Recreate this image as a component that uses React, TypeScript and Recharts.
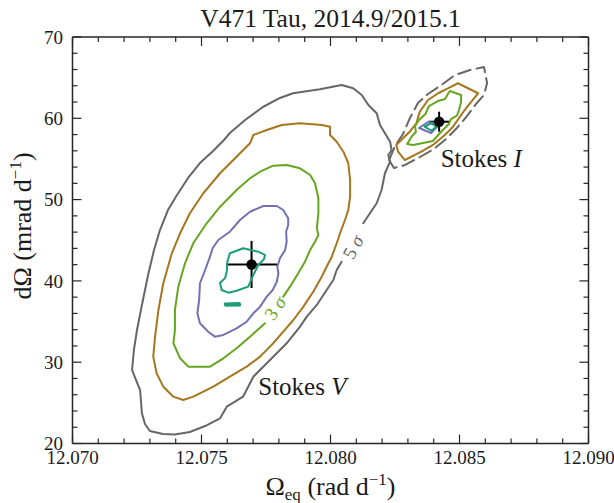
import React from "react";
import { ComposedChart, XAxis, YAxis, Scatter, ErrorBar, ReferenceDot } from "recharts";

const FONT = "'Liberation Serif', 'Times New Roman', serif";
const AX = "#262626";
const TXT = "#1a1a1a";

const TEAL = "#1b9e77";
const PURPLE = "#7570b3";
const GREEN = "#66a61e";
const BROWN = "#a6761d";
const GRAY = "#666666";

const xTicks = [12.07, 12.071, 12.072, 12.073, 12.074, 12.075, 12.076, 12.077, 12.078, 12.079, 12.08, 12.081, 12.082, 12.083, 12.084, 12.085, 12.086, 12.087, 12.088, 12.089, 12.09];
const xMajor = [12.07, 12.075, 12.08, 12.085, 12.09];
const xMajorLabels = ["12.070", "12.075", "12.080", "12.085", "12.090"];
const yTicks = [20, 22, 24, 26, 28, 30, 32, 34, 36, 38, 40, 42, 44, 46, 48, 50, 52, 54, 56, 58, 60, 62, 64, 66, 68, 70];
const yMajor = [20, 30, 40, 50, 60, 70];
const yMajorLabels = ["20", "30", "40", "50", "60", "70"];

type P = [number, number];

// Stokes V contours
const vTeal: P[] = [
  [12.0761, 43.4], [12.07662, 44.01], [12.0772, 43.59], [12.07746, 43.19], [12.07742, 42.66], [12.0772, 41.96],
  [12.07701, 40.73], [12.07681, 39.29], [12.07636, 38.79], [12.07604, 38.55], [12.07578, 38.88], [12.07572, 39.78],
  [12.07591, 40.32], [12.07598, 41.13], [12.076, 42.36],
];
const vTealSmall: P[] = [[12.07591, 37.2], [12.07647, 37.24], [12.07649, 37.02], [12.07593, 36.98]];
const vPurple: P[] = [
  [12.0774, 49.21], [12.07792, 49.21], [12.07817, 48.72], [12.07836, 47.7], [12.07836, 46.88], [12.07828, 46.05],
  [12.0783, 44.82], [12.07824, 43.8], [12.07804, 42.78], [12.07794, 41.75], [12.07798, 40.94], [12.07792, 39.9],
  [12.07776, 38.88], [12.07753, 38.06], [12.07727, 36.83], [12.07701, 36.02], [12.07675, 34.98], [12.07636, 34.17],
  [12.07585, 33.35], [12.07552, 33.14], [12.07526, 33.75], [12.07494, 34.79], [12.07484, 36.02], [12.07491, 37.65],
  [12.07494, 39.71], [12.07514, 41.34], [12.07533, 42.98], [12.07543, 44.01], [12.07565, 45.03], [12.0761, 46.05],
  [12.07649, 47.49], [12.07688, 48.51],
];
const vGreen: P[] = [
  [12.07746, 34.79], [12.07688, 33.14], [12.07636, 31.71], [12.07585, 30.48], [12.07533, 29.45], [12.07449, 29.45],
  [12.07417, 30.48], [12.07391, 32.33], [12.07397, 33.96], [12.07397, 36.42], [12.0741, 39.29], [12.07436, 42.17],
  [12.07468, 44.63], [12.0752, 47.09], [12.07572, 49.13], [12.07636, 51.18], [12.07688, 52.62], [12.07727, 53.43],
  [12.07778, 54.17], [12.0783, 54.26], [12.07882, 53.85], [12.07921, 53.03], [12.0794, 52.01], [12.07953, 50.16],
  [12.07953, 48.32], [12.07947, 46.47], [12.07953, 45.65], [12.0794, 44.82], [12.07921, 43.8], [12.07901, 42.36],
  [12.07875, 40.94], [12.07843, 39.29], [12.07817, 38.06],
];
const vBrown: P[] = [
  [12.07811, 59.18], [12.07882, 59.39], [12.07966, 59.18], [12.07998, 58.97], [12.07998, 57.95], [12.08024, 57.12],
  [12.0805, 55.89], [12.08069, 54.47], [12.08076, 52.41], [12.08076, 50.36], [12.08069, 48.72], [12.08056, 47.49],
  [12.08037, 45.86], [12.08024, 44.63], [12.08005, 42.98], [12.07985, 41.75], [12.07966, 40.52], [12.07933, 38.67],
  [12.07895, 36.83], [12.07856, 35.19], [12.07817, 33.75], [12.07778, 32.33], [12.07727, 30.68], [12.07675, 29.45],
  [12.0761, 28.22], [12.07546, 26.99], [12.07468, 25.76], [12.07429, 25.35], [12.07391, 25.76], [12.07352, 26.99],
  [12.07326, 28.64], [12.07313, 30.68], [12.0732, 33.14], [12.07333, 36.42], [12.07352, 39.71], [12.07385, 43.4],
  [12.07417, 45.86], [12.07455, 48.32], [12.07507, 50.78], [12.07572, 53.24], [12.07636, 55.28], [12.07688, 56.93],
  [12.07701, 57.95], [12.07753, 58.56],
];
const vGray: P[] = [
  [12.08043, 42.36], [12.08024, 41.34], [12.08011, 40.11], [12.07985, 38.88], [12.07947, 37.04], [12.07908, 35.6],
  [12.07882, 34.37], [12.0783, 32.33], [12.07778, 30.68], [12.07701, 28.22], [12.07661, 25.76], [12.07598, 24.53],
  [12.07572, 23.1], [12.07514, 22.15], [12.07455, 21.41], [12.07397, 21.11], [12.07351, 21.17], [12.073, 21.54],
  [12.07281, 22.4], [12.07269, 23.72], [12.07262, 26.58], [12.07231, 29.04], [12.07238, 31.5], [12.0725, 33.96],
  [12.07273, 37.65], [12.07293, 40.73], [12.07316, 43.8], [12.07339, 46.26], [12.0737, 48.72], [12.07405, 50.57],
  [12.07448, 52.66], [12.07494, 54.5], [12.07545, 55.98], [12.07587, 57.33], [12.0761, 58.19], [12.07669, 59.79],
  [12.07738, 61.39], [12.07804, 62.5], [12.07855, 63.08], [12.07959, 63.57], [12.08043, 64.1], [12.08088, 63.69],
  [12.08121, 62.87], [12.08147, 61.64], [12.08179, 60.62], [12.08192, 59.18], [12.08211, 58.16], [12.08231, 57.12],
  [12.08237, 56.1], [12.08224, 55.49], [12.08231, 54.66], [12.08211, 53.24], [12.08198, 51.18], [12.08179, 49.55],
  [12.08153, 48.32], [12.08127, 47.09],
];

// Stokes I contours
const iTeal: P[] = [[12.08365, 58.97], [12.08391, 59.39], [12.0841, 58.97], [12.08391, 58.47]];
const iPurple: P[] = [[12.08343, 58.81], [12.08378, 59.54], [12.08424, 59.3], [12.0839, 58.19]];
const iGreen: P[] = [
  [12.08463, 63.36], [12.08506, 62.87], [12.08506, 62.0], [12.08498, 61.02], [12.0849, 60.34], [12.08467, 59.91],
  [12.08459, 59.3], [12.08428, 58.31], [12.08397, 57.21], [12.08359, 56.96], [12.0832, 56.72], [12.08297, 56.84],
  [12.08316, 57.82], [12.08331, 58.31], [12.08328, 59.05], [12.08343, 59.79], [12.08368, 60.53], [12.08382, 61.51],
  [12.08417, 62.13], [12.08444, 62.37], [12.08455, 62.99],
];
const iBrown: P[] = [
  [12.08494, 64.31], [12.08572, 63.08], [12.08546, 62.04], [12.0852, 61.02], [12.08475, 58.97], [12.08443, 57.95],
  [12.08397, 56.72], [12.08352, 55.89], [12.08288, 54.87], [12.08262, 55.89], [12.08255, 56.72], [12.08281, 57.54],
  [12.08307, 58.35], [12.08333, 59.39], [12.08346, 60.81], [12.08378, 62.25], [12.08417, 63.08], [12.08455, 63.69],
];
const iGray: P[] = [
  [12.08227, 54.87], [12.0825, 56.59], [12.08281, 58.07], [12.08308, 60.04], [12.08339, 61.88], [12.08378, 62.99],
  [12.08424, 63.97], [12.08483, 65.33], [12.08541, 65.94], [12.08595, 66.31], [12.08607, 64.34], [12.08595, 62.87],
  [12.08564, 61.76], [12.08529, 60.28], [12.0849, 58.81], [12.08448, 57.45], [12.08401, 56.22], [12.08347, 55.24],
  [12.08289, 54.26], [12.08246, 53.89],
];

// best-fit points with error bars
const bestV = [{ x: 12.07694, y: 42.02, ex: 0.00099, ey: 2.9 }];
const bestI = [{ x: 12.08421, y: 59.58, ex: 0.00042, ey: 1.23 }];

// annotations (data coordinates)
const stokesVPos = { x: 12.0772, y: 25.97 };
const stokesIPos = { x: 12.08427, y: 53.97 };
const sigma3Pos = { x: 12.07785, y: 36.67 };
const sigma5Pos = { x: 12.08087, y: 44.17 };

const toPts = (a: P[], close: boolean) => {
  const r = a.map(([x, y]) => ({ x, y }));
  if (close) r.push({ ...r[0] });
  return r;
};

const near = (v: number, list: number[]) => list.findIndex((m) => Math.abs(m - v) < 1e-7);

const BottomTick = (p: any) => {
  const { x, y, payload } = p;
  const i = near(payload.value, xMajor);
  const maj = i >= 0;
  return (
    <g>
      <line x1={x} x2={x} y1={y} y2={y - (maj ? 9 : 5)} stroke={AX} strokeWidth={1.2} />
      {maj && (
        <text x={x} y={y + 20.5} textAnchor="middle" fontFamily={FONT} fontSize={19} fill={TXT}>
          {xMajorLabels[i]}
        </text>
      )}
    </g>
  );
};
const TopTick = (p: any) => {
  const { x, y, payload } = p;
  const maj = near(payload.value, xMajor) >= 0;
  return <line x1={x} x2={x} y1={y} y2={y + (maj ? 9 : 5)} stroke={AX} strokeWidth={1.2} />;
};
const LeftTick = (p: any) => {
  const { x, y, payload } = p;
  const i = near(payload.value, yMajor);
  const maj = i >= 0;
  return (
    <g>
      <line x1={x} x2={x + (maj ? 9 : 5)} y1={y} y2={y} stroke={AX} strokeWidth={1.2} />
      {maj && (
        <text x={x - 9.5} y={y} dy="0.35em" textAnchor="end" fontFamily={FONT} fontSize={19} fill={TXT}>
          {yMajorLabels[i]}
        </text>
      )}
    </g>
  );
};
const RightTick = (p: any) => {
  const { x, y, payload } = p;
  const maj = near(payload.value, yMajor) >= 0;
  return <line x1={x} x2={x - (maj ? 9 : 5)} y1={y} y2={y} stroke={AX} strokeWidth={1.2} />;
};

const Empty = () => <g />;
const Dot = (p: any) => <circle cx={p.cx} cy={p.cy} r={5.2} fill="#000" />;

const contour = (key: string, pts: P[], color: string, close = true, width = 2, dash?: string) => (
  <Scatter
    key={key}
    xAxisId="b"
    yAxisId="l"
    data={toPts(pts, close)}
    line={{ stroke: color, strokeWidth: width, strokeLinejoin: "round", strokeLinecap: "round", strokeDasharray: dash, fill: "none" }}
    lineType="joint"
    shape={Empty}
    isAnimationActive={false}
    legendType="none"
  />
);

export default function App() {
  return (
    <div style={{ position: "relative", width: 614, height: 503 }}>
      <style>{`body{margin:0;overflow:hidden}`}</style>
      <ComposedChart width={614} height={503} margin={{ top: 36, right: 24.5, bottom: 29.5, left: 71.5 }}>
        <XAxis xAxisId="b" type="number" dataKey="x" domain={[12.07, 12.09]} allowDataOverflow ticks={xTicks} interval={0}
          height={30} tickSize={0} tickMargin={0} tickLine={false} axisLine={{ stroke: AX, strokeWidth: 1.5 }} tick={BottomTick} />
        <XAxis xAxisId="t" orientation="top" type="number" dataKey="x" domain={[12.07, 12.09]} allowDataOverflow ticks={xTicks} interval={0}
          height={1} tickSize={0} tickMargin={0} tickLine={false} axisLine={{ stroke: AX, strokeWidth: 1.5 }} tick={TopTick} />
        <YAxis yAxisId="l" type="number" dataKey="y" domain={[20, 70]} allowDataOverflow ticks={yTicks} interval={0}
          width={1} tickSize={0} tickMargin={0} tickLine={false} axisLine={{ stroke: AX, strokeWidth: 1.5 }} tick={LeftTick} />
        <YAxis yAxisId="r" orientation="right" type="number" dataKey="y" domain={[20, 70]} allowDataOverflow ticks={yTicks} interval={0}
          width={1} tickSize={0} tickMargin={0} tickLine={false} axisLine={{ stroke: AX, strokeWidth: 1.5 }} tick={RightTick} />

        <Scatter xAxisId="t" yAxisId="r" data={bestV} shape={Empty} isAnimationActive={false} legendType="none" />

        {contour("vGray", vGray, GRAY, false)}
        {contour("vBrown", vBrown, BROWN)}
        {contour("vGreen", vGreen, GREEN, false)}
        {contour("vPurple", vPurple, PURPLE)}
        {contour("vTeal", vTeal, TEAL)}
        {contour("vTealSmall", vTealSmall, TEAL, true, 2.5)}
        {contour("iGray", iGray, GRAY, true, 2, "13 6")}
        {contour("iBrown", iBrown, BROWN)}
        {contour("iGreen", iGreen, GREEN)}
        {contour("iPurple", iPurple, PURPLE)}
        {contour("iTeal", iTeal, TEAL)}

        <Scatter xAxisId="b" yAxisId="l" data={bestV} shape={Dot} isAnimationActive={false} legendType="none">
          <ErrorBar dataKey="ex" direction="x" width={0} stroke="#000" strokeWidth={2} isAnimationActive={false} />
          <ErrorBar dataKey="ey" direction="y" width={0} stroke="#000" strokeWidth={2} isAnimationActive={false} />
        </Scatter>
        <Scatter xAxisId="b" yAxisId="l" data={bestI} shape={Dot} isAnimationActive={false} legendType="none">
          <ErrorBar dataKey="ex" direction="x" width={0} stroke="#000" strokeWidth={2} isAnimationActive={false} />
          <ErrorBar dataKey="ey" direction="y" width={0} stroke="#000" strokeWidth={2} isAnimationActive={false} />
        </Scatter>

        <ReferenceDot xAxisId="b" yAxisId="l" x={stokesVPos.x} y={stokesVPos.y} r={0}
          shape={(p: any) => (
            <text x={p.cx} y={p.cy} fontFamily={FONT} fontSize={25} fill={TXT}>
              Stokes <tspan fontStyle="italic">V</tspan>
            </text>
          )} />
        <ReferenceDot xAxisId="b" yAxisId="l" x={stokesIPos.x} y={stokesIPos.y} r={0}
          shape={(p: any) => (
            <text x={p.cx} y={p.cy} fontFamily={FONT} fontSize={25} fill={TXT}>
              Stokes <tspan fontStyle="italic">I</tspan>
            </text>
          )} />
        <ReferenceDot xAxisId="b" yAxisId="l" x={sigma3Pos.x} y={sigma3Pos.y} r={0}
          shape={(p: any) => (
            <text x={p.cx} y={p.cy} dy="0.35em" textAnchor="middle" transform={`rotate(-55 ${p.cx} ${p.cy})`}
              fontFamily={FONT} fontSize={19} fill={GREEN}>
              3 <tspan fontStyle="italic">σ</tspan>
            </text>
          )} />
        <ReferenceDot xAxisId="b" yAxisId="l" x={sigma5Pos.x} y={sigma5Pos.y} r={0}
          shape={(p: any) => (
            <text x={p.cx} y={p.cy} dy="0.35em" textAnchor="middle" transform={`rotate(-62 ${p.cx} ${p.cy})`}
              fontFamily={FONT} fontSize={19} fill={GRAY}>
              5 <tspan fontStyle="italic">σ</tspan>
            </text>
          )} />
      </ComposedChart>
      <svg width={614} height={503} style={{ position: "absolute", left: 0, top: 0, pointerEvents: "none" }}>
        <text x={330.5} y={27} textAnchor="middle" fontFamily={FONT} fontSize={25.5} fill={TXT}>
          V471 Tau, 2014.9/2015.1
        </text>
        <text x={330.5} y={495} textAnchor="middle" fontFamily={FONT} fontSize={26} fill={TXT}>
          Ω<tspan dy={5} fontSize={17}>eq</tspan>
          <tspan dy={-5}> (rad d</tspan>
          <tspan dy={-10} fontSize={17}>−1</tspan>
          <tspan dy={10}>)</tspan>
        </text>
        <text x={0} y={0} transform="translate(31 226) rotate(-90)" textAnchor="middle" fontFamily={FONT} fontSize={26} fill={TXT}>
          dΩ (mrad d<tspan dy={-10} fontSize={17}>−1</tspan>
          <tspan dy={10}>)</tspan>
        </text>
      </svg>
    </div>
  );
}
